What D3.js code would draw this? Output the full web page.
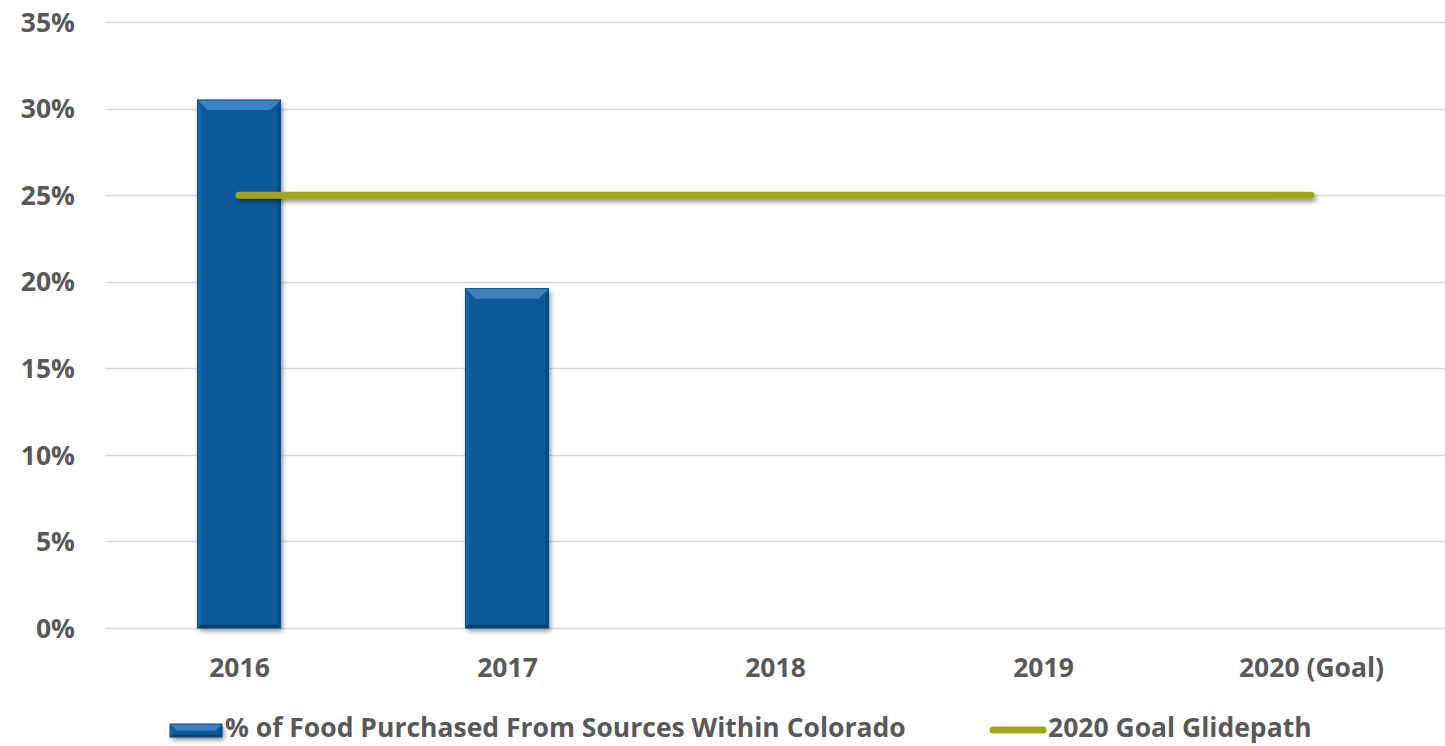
<!DOCTYPE html>
<html><head><meta charset="utf-8">
<script src="https://cdn.jsdelivr.net/npm/d3@7"></script>
<style>
html,body{margin:0;padding:0;background:#fff;}
svg{display:block;font-family:"Open Sans",sans-serif;font-weight:700;}
</style></head>
<body><svg id="c" width="1445" height="746"></svg>
<script>
const categories = ["2016","2017","2018","2019","2020 (Goal)"];
const purchased = [30.5, 19.6, null, null, null];
const glidepath = [25, 25, 25, 25, 25];
const yTicks = [0,5,10,15,20,25,30,35];
const seriesNames = ["% of Food Purchased From Sources Within Colorado","2020 Goal Glidepath"];

const svg = d3.select("#c");
const W=1445,H=746;
const FS="26.5px";
const m={l:105,r:0,t:22,b:118};
const x=d3.scaleBand().domain(categories).range([m.l,W-m.r]).paddingInner(0.69).paddingOuter(0.345);
const xc=d3.scalePoint().domain(categories).range([m.l,W-m.r]).padding(0.5);
const y=d3.scaleLinear().domain([0,35]).range([H-m.b,m.t]);

const defs=svg.append("defs");
const sh=defs.append("filter").attr("id","sh").attr("filterUnits","userSpaceOnUse")
  .attr("x",0).attr("y",0).attr("width",W).attr("height",H);
sh.append("feGaussianBlur").attr("in","SourceAlpha").attr("stdDeviation",2.5);
sh.append("feOffset").attr("dx",2).attr("dy",3).attr("result","o");
sh.append("feComponentTransfer").append("feFuncA").attr("type","linear").attr("slope",0.45);
const mg=sh.append("feMerge");mg.append("feMergeNode");mg.append("feMergeNode").attr("in","SourceGraphic");

// grid
const g=svg.append("g");
g.selectAll("line.grid").data(yTicks).join("line")
 .attr("x1",m.l).attr("x2",W).attr("y1",d=>Math.round(y(d))+0.5).attr("y2",d=>Math.round(y(d))+0.5)
 .attr("stroke","#d9d9d9").attr("stroke-width",1.5);

const yAxis=d3.axisLeft(y).tickValues(yTicks).tickFormat(d=>d+"%").tickSize(0).tickPadding(0);
const ya=svg.append("g").attr("transform",`translate(75,0)`).call(yAxis);
ya.select(".domain").remove();
ya.selectAll("text").attr("fill","#595959").style("font-size",FS).style("font-family","Open Sans").style("font-weight","700").attr("dy","0.35em");

const xAxis=d3.axisBottom(xc).tickSize(0).tickPadding(0);
const xa=svg.append("g").attr("transform",`translate(0,${H-m.b+40})`).call(xAxis);
xa.select(".domain").remove();
xa.selectAll("text").attr("fill","#595959").style("font-size",FS).style("font-family","Open Sans").style("font-weight","700").attr("dy","0.35em");

function bevelBar(sel,x0,y0,w,h){
  const b=Math.min(10,h/2);
  const gg=sel.append("g");
  gg.append("rect").attr("x",x0).attr("y",y0).attr("width",w).attr("height",h).attr("fill","#0b5a9b").attr("filter","url(#sh)");
  gg.append("path").attr("d",`M${x0},${y0}L${x0+w},${y0}L${x0+w-b},${y0+b}L${x0+b},${y0+b}Z`).attr("fill","#3a82c2");
  gg.append("path").attr("d",`M${x0},${y0}L${x0+b*0.35},${y0+b}L${x0+b*0.35},${y0+h-b*0.35}L${x0},${y0+h}Z`).attr("fill","#1467ab");
  gg.append("path").attr("d",`M${x0+w},${y0}L${x0+w-b*0.35},${y0+b}L${x0+w-b*0.35},${y0+h-b*0.35}L${x0+w},${y0+h}Z`).attr("fill","#064a82");
  gg.append("path").attr("d",`M${x0},${y0+h}L${x0+w},${y0+h}L${x0+w-b*0.35},${y0+h-b*0.35}L${x0+b*0.35},${y0+h-b*0.35}Z`).attr("fill","#053f70");
  gg.append("rect").attr("x",x0).attr("y",y0).attr("width",w).attr("height",h).attr("fill","none").attr("stroke","#0a4f88").attr("stroke-width",1);
  return gg;
}

categories.forEach((c,i)=>{
  const v=purchased[i];
  if(v==null) return;
  bevelBar(svg,x(c),y(v),x.bandwidth(),y(0)-y(v));
});

// line
const line=d3.line().x((d,i)=>xc(categories[i])).y(d=>y(d));
svg.append("path").datum(glidepath).attr("d",line).attr("fill","none")
 .attr("stroke","#9ea61a").attr("stroke-width",7).attr("stroke-linecap","round").attr("filter","url(#sh)");

// legend
const lg=svg.append("g");
bevelBar(lg,170,724,52,13);
lg.append("text").attr("x",225).attr("y",728).attr("dy","0.35em").attr("fill","#595959").style("font-size",FS).text(seriesNames[0]);
lg.append("line").attr("x1",993).attr("x2",1043).attr("y1",730).attr("y2",730).attr("stroke","#9ea61a").attr("stroke-width",7).attr("stroke-linecap","round");
lg.append("text").attr("x",1048).attr("y",728).attr("dy","0.35em").attr("fill","#595959").style("font-size",FS).text(seriesNames[1]);
</script></body></html>
